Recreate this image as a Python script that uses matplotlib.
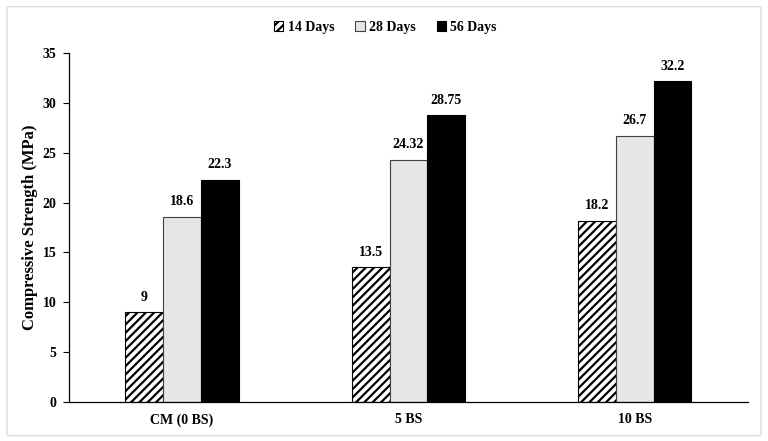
import matplotlib.pyplot as plt
import numpy as np
from matplotlib.patches import FancyBboxPatch

plt.rcParams["font.family"] = ["Liberation Serif", "DejaVu Serif"]
plt.rcParams["font.weight"] = "bold"
plt.rcParams["hatch.linewidth"] = 1.6

categories = ["CM (0 BS)", "5 BS", "10 BS"]
series = ["14 Days", "28 Days", "56 Days"]
day14 = [9, 13.5, 18.2]
day28 = [18.6, 24.32, 26.7]
day56 = [22.3, 28.75, 32.2]
value_labels = [["9", "13.5", "18.2"], ["18.6", "24.32", "26.7"], ["22.3", "28.75", "32.2"]]

fig = plt.figure(figsize=(7.68, 4.41), dpi=100)
ax = fig.add_axes([0.0898, 0.0884, 0.884, 0.7914])

# light grey frame around the whole chart
fig.patches.append(FancyBboxPatch((0.009, 0.012), 0.982, 0.973, boxstyle="round,pad=0,rounding_size=0.005",
                                  transform=fig.transFigure, fill=False, edgecolor="#d9d9d9", linewidth=1.0))

x = np.arange(len(categories))
w = 0.167
styles = [
    dict(facecolor="white", edgecolor="black", hatch="////"),
    dict(facecolor="#e6e6e6", edgecolor="#404040"),
    dict(facecolor="black", edgecolor="black"),
]
for i, (vals, name) in enumerate(zip([day14, day28, day56], series)):
    bars = ax.bar(x + (i - 1) * w, vals, w, label=name, linewidth=0.8, **styles[i])
    for b, txt in zip(bars, value_labels[i]):
        ax.annotate(txt, (b.get_x() + b.get_width() / 2, b.get_height()),
                    textcoords="offset points", xytext=(0, 6), ha="center", va="bottom",
                    fontsize=10, fontweight="bold")

ax.set_xlim(-0.5, 2.5)
ax.set_ylim(0, 35)
ax.set_yticks(np.arange(0, 36, 5))
ax.set_xticks(x)
ax.set_xticklabels(categories, fontsize=10, fontweight="bold")
ax.tick_params(axis="y", labelsize=10, length=4, direction="out", pad=5)
ax.tick_params(axis="x", length=0, pad=8)
ax.set_ylabel("Compressive Strength (MPa)", fontsize=12, fontweight="bold", labelpad=3)
for s in ["top", "right"]:
    ax.spines[s].set_visible(False)
ax.spines["left"].set_linewidth(0.9)
ax.spines["bottom"].set_linewidth(0.9)

ax.legend(loc="center", bbox_to_anchor=(0.466, 1.0745), ncol=3, frameon=False,
          handlelength=0.7, handleheight=0.7, handletextpad=0.3, columnspacing=1.5,
          prop={"weight": "bold", "size": 10})

fig.savefig("out.png", dpi=100)
